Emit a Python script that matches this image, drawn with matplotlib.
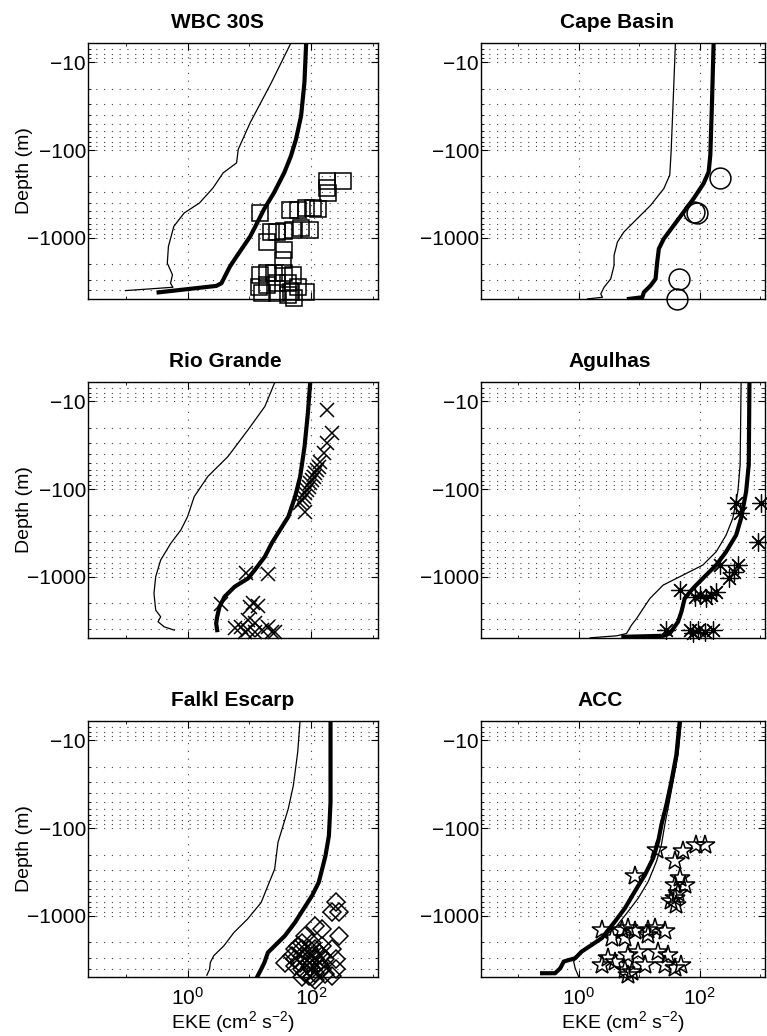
import matplotlib
matplotlib.use('Agg')
import matplotlib.pyplot as plt
from matplotlib.ticker import FixedLocator, LogLocator, FuncFormatter, LogFormatterSciNotation, NullFormatter

plt.rcParams['font.family'] = ['Liberation Sans', 'DejaVu Sans']
plt.rcParams['mathtext.fontset'] = 'custom'
plt.rcParams['mathtext.rm'] = 'Liberation Sans'
plt.rcParams['mathtext.it'] = 'Liberation Sans:italic'

# ---- WBC 30S ----
wbc_thick_eke = [82.7, 77.6, 68.5, 56.6, 46.9, 36.5, 24.9, 17.1, 12.5, 10.3, 8.0, 6.2, 4.84, 4.0, 3.53, 2.92, 0.34]
wbc_thick_depth = [6, 16.9, 40.8, 75.5, 117, 182, 308, 478, 741, 966, 1257, 1636, 2130, 2772, 3305, 3545, 4200]
wbc_thin_eke = [46.9, 22, 10.3, 6.6, 6.2, 3.76, 2.58, 1.56, 0.88, 0.60, 0.49, 0.47, 0.57, 0.53, 0.58, 0.099]
wbc_thin_depth = [6, 17.7, 48.6, 98, 140, 182, 270, 401, 522, 741, 1257, 1950, 2652, 3305, 3675, 4010]
wbc_obs_eke = [177, 332, 177, 184, 15.1, 45.8, 60.4, 83, 107, 129, 22.6, 28.3, 36.5, 50, 68.7, 94,
               19.4, 36.5, 34.3, 15.1, 19.4, 25, 36.5, 50, 14.2, 19.4, 28.3, 41.4, 60.4, 16, 28.3,
               47, 83, 53.3, 41.4]
wbc_obs_depth = [223, 223, 270, 308, 523, 479, 479, 458, 458, 470, 871, 871, 849, 812, 777, 812,
                 1107, 1372, 1790, 2662, 2545, 2545, 2545, 2662, 3623, 3466, 3315, 3315, 3623, 4313, 4313,
                 4130, 4130, 4920, 4510]

# ---- Cape Basin ----
cape_thick_eke = [170, 160, 150, 141, 116, 79.6, 54.6, 37.4, 25.6, 21.2, 19.9, 18.7, 15.5, 12.0, 11.3, 6.8]
cape_thick_depth = [6, 28, 114, 177, 241, 357, 508, 722, 1026, 1336, 1900, 2946, 3513, 4190, 4780, 4990]
cape_thin_eke = [39.8, 36.5, 33.8, 32.1, 25.6, 15.5, 9.3, 5.6, 4.38, 3.86, 3.86, 3.40, 2.64, 2.33, 2.48, 1.41]
cape_thin_depth = [6, 28, 104, 193, 275, 427, 606, 861, 1122, 1594, 2073, 2946, 3672, 4378, 4780, 4990]
cape_obs_eke = [219, 79.6, 90.4, 45.2, 42.4]
cape_obs_depth = [207, 508, 517, 2946, 4990]

# ---- Rio Grande ----
rg_thick_eke = [96.3, 88.2, 77.9, 66.2, 54.8, 42.7, 31.2, 22.9, 17.8, 12.2, 9.5, 5.77, 3.96, 3.28, 3.01, 2.90, 3.01]
rg_thick_depth = [6, 13.6, 32.7, 72, 122, 206, 293, 416, 590, 839, 1045, 1301, 1693, 2203, 2864, 3414, 4070]
rg_thin_eke = [25.9, 17.8, 9.5, 4.49, 2.12, 1.28, 1.0, 0.78, 0.535, 0.367, 0.305, 0.286, 0.305, 0.367, 0.333, 0.417, 0.607]
rg_thin_depth = [6, 11.4, 21.1, 42.6, 72, 122, 206, 293, 416, 645, 1000, 1549, 2403, 2864, 3266, 3724, 4070]
rg_obs_eke = [180, 217, 180, 159, 140, 132, 124, 116, 109, 103, 96.3, 90.5, 85, 79.8, 75, 70.5, 66.2, 79.8,
              8.9, 20.2, 3.5, 11.5, 10.1, 13.8, 5.77, 7.4, 9.5, 9.5, 12.2, 15.7, 20.2, 22.9, 8.4, 12.2, 25.9]
rg_obs_depth = [12.5, 23, 30, 38.9, 48.5, 55.3, 60.4, 65.9, 72, 78.5, 85.7, 93.5, 102, 112, 122, 133, 145, 181,
                916, 933, 2050, 1982, 2203, 2165, 3890, 3724, 3127, 4070, 3414, 4070, 3724, 4252, 4252, 4252, 4252]

# ---- Agulhas ----
ag_thick_eke = [664, 647, 585, 484, 401, 274, 188, 113, 77.6, 56.6, 50, 44, 32.1, 25, 5.5]
ag_thick_depth = [6, 53, 107, 215, 334, 518, 736, 1045, 1359, 1770, 2512, 3266, 4446, 4723, 4850]
ag_thin_eke = [484, 466, 427, 353, 274, 188, 113, 53.2, 25, 15.1, 11.7, 9.1, 7.5, 6.2, 4.27, 1.56]
ag_thin_depth = [6, 53, 107, 215, 334, 518, 736, 958, 1246, 1770, 2303, 2995, 3566, 4446, 4723, 4977]
ag_obs_eke = [401, 1032, 455, 910, 213, 427, 376, 311, 46.9, 100, 155, 188, 82.7, 129, 28.3, 68.5, 94, 121, 166, 77.6]
ag_obs_depth = [145, 145, 189, 398, 736, 736, 877, 1045, 1419, 1622, 1622, 1483, 1693, 1770, 4074, 4074, 4074, 4256, 4074, 4446]

# ---- Falkl Escarp ----
fe_thick_eke = [205, 205, 193, 170, 150, 132, 103, 74.8, 54.6, 37.4, 25.6, 19.9, 17.5, 15.5, 13.6]
fe_thick_depth = [6, 50.7, 122, 206, 293, 416, 590, 839, 1191, 1693, 2203, 2624, 3414, 4070, 4853]
fe_thin_eke = [65.9, 60.4, 51.3, 42.4, 35.1, 29, 25.6, 19.9, 15.5, 9.3, 5.63, 3.86, 2.64, 2.33, 2.27, 2.05]
fe_thin_depth = [6, 13.6, 32.7, 60.4, 93.5, 145, 293, 454, 705, 1092, 1549, 2203, 2864, 3414, 4070, 4766]
fe_obs_eke = [248, 219, 281, 116, 150, 281, 70.3, 103, 150, 219, 48.1, 70.3, 103, 150, 37.4, 54.6, 90.4,
              132, 70.3, 103, 150, 248, 219, 90.4, 116, 70.3, 116, 170, 248, 79.6, 54.6,
              61.9, 90.4, 132, 54.6, 79.6, 116, 65.9, 96.3, 141, 79.6, 116, 170, 70.3, 103]
fe_obs_depth = [705, 916, 916, 1301, 1419, 1693, 2018, 2018, 2203, 2404, 2864, 2864, 2864, 2864, 3414, 3724, 3414,
                3414, 4070, 4070, 4070, 4070, 4853, 4853, 5400, 2404, 2404, 3127, 3127, 1693, 2404,
                2203, 2404, 2624, 3127, 3127, 3127, 3414, 3890, 3724, 4446, 4446, 4645, 5050, 5050]

# ---- ACC ----
acc_thick_eke = [46.9, 41.3, 34.2, 28.3, 23.4, 20.7, 17.1, 12.5, 8.5, 5.85, 4.0, 2.42, 1.66, 1.13, 0.88, 0.57, 0.50, 0.41, 0.25]
acc_thick_depth = [6, 14.5, 29.2, 53.8, 91.2, 141, 219, 340, 527, 817, 1161, 1800, 2143, 2556, 3048, 3327, 3965, 4522, 4522]
acc_thin_eke = [50, 44, 36.5, 30.9, 26.6, 23.4, 19.4, 14.2, 9.7, 6.6, 4.0, 2.42, 1.37, 1.0, 0.83, 0.88, 1.0]
acc_thin_depth = [6, 14.5, 29.2, 53.8, 91.2, 154, 239, 405, 628, 892, 1384, 1800, 2344, 2793, 3327, 3965, 4930]
acc_obs_eke = [19.4, 53.2, 88.1, 121, 38.8, 8.5, 46.9, 38.8, 56.6, 44, 38.8, 34.2, 41.3, 2.42, 5.2, 6.6, 8.5,
               14.2, 18.2, 26.6, 3.53, 5.85, 14.2, 3.11, 6.6, 9.7, 20.7, 30.1, 2.42, 4.0, 5.85, 7.5, 12.5,
               26.6, 38.8, 50, 6.6]
acc_obs_depth = [176, 184, 154, 154, 239, 355, 371, 443, 443, 551, 628, 686, 748, 1445, 1445, 1384, 1510,
                 1445, 1384, 1510, 1800, 1800, 1647, 3048, 2793, 2556, 2556, 2793, 3631, 3327, 4140, 4326, 3631,
                 3631, 3965, 3631, 4720]

titles = ['WBC 30S', 'Cape Basin', 'Rio Grande', 'Agulhas', 'Falkl Escarp', 'ACC']

panels = [
    (wbc_thin_eke, wbc_thin_depth, wbc_thick_eke, wbc_thick_depth, wbc_obs_eke, wbc_obs_depth),
    (cape_thin_eke, cape_thin_depth, cape_thick_eke, cape_thick_depth, cape_obs_eke, cape_obs_depth),
    (rg_thin_eke, rg_thin_depth, rg_thick_eke, rg_thick_depth, rg_obs_eke, rg_obs_depth),
    (ag_thin_eke, ag_thin_depth, ag_thick_eke, ag_thick_depth, ag_obs_eke, ag_obs_depth),
    (fe_thin_eke, fe_thin_depth, fe_thick_eke, fe_thick_depth, fe_obs_eke, fe_obs_depth),
    (acc_thin_eke, acc_thin_depth, acc_thick_eke, acc_thick_depth, acc_obs_eke, acc_obs_depth),
]

# marker style per panel (MATLAB-like open symbols)
marker_styles = [('s', 11.5), ('o', 15), ('x', 10), ((8, 2, 0), 13), ('D', 9), ('*', 15)]
marker_widths = [1.1, 1.1, 1.1, 0.9, 1.1, 1.1]
title_x = [0.445, 0.48, 0.475, 0.455, 0.5, 0.42]

# axes placement (figure fractions)
col_left = [0.1147, 0.6271]
col_width = [0.3781, 0.3703]
row_bottom = [0.7114, 0.3842, 0.0569]
row_height = 0.2471

fig = plt.figure(figsize=(7.67, 10.36), dpi=100)

grid_kw = dict(color='0.25', linestyle=(0, (1, 6)), linewidth=0.8)

for i, (thin_x, thin_y, thick_x, thick_y, obs_x, obs_y) in enumerate(panels):
    r, c = divmod(i, 2)
    ax = fig.add_axes([col_left[c], row_bottom[r], col_width[c], row_height])

    ax.plot(thin_x, thin_y, color='k', linewidth=0.9)
    ax.plot(thick_x, thick_y, color='k', linewidth=3.0)
    mk, ms = marker_styles[i]
    ax.plot(obs_x, obs_y, linestyle='none', marker=mk, markersize=ms,
            markerfacecolor='none', markeredgecolor='k', markeredgewidth=marker_widths[i], clip_on=False)

    ax.set_xscale('log')
    ax.set_yscale('log')
    ax.set_xlim(0.0245, 1200)
    ax.set_ylim(5000, 6)

    ax.xaxis.set_major_locator(FixedLocator([1, 100]))
    ax.xaxis.set_minor_locator(FixedLocator([0.1, 10, 1000]))
    ax.xaxis.set_major_formatter(LogFormatterSciNotation())
    ax.xaxis.set_minor_formatter(NullFormatter())
    ax.yaxis.set_major_locator(FixedLocator([10, 100, 1000]))
    ax.yaxis.set_minor_locator(LogLocator(base=10, subs=range(2, 10)))
    ax.yaxis.set_major_formatter(FuncFormatter(lambda v, p: '\u2212%d' % round(v)))
    ax.yaxis.set_minor_formatter(NullFormatter())

    ax.grid(True, which='both', axis='y', **grid_kw)
    ax.grid(True, which='major', axis='x', **grid_kw)
    ax.set_axisbelow(True)

    ax.tick_params(which='both', direction='in', top=True, right=True, labelsize=15)
    ax.tick_params(which='major', length=5, width=0.8)
    ax.tick_params(which='minor', length=2.5, width=0.6)
    ax.tick_params(axis='y', pad=1.5)
    ax.tick_params(axis='x', pad=7)
    for sp in ax.spines.values():
        sp.set_linewidth(1.0)

    ax.set_title(titles[i], fontsize=15, fontweight='bold', pad=11, x=title_x[i])
    if c == 0:
        ax.set_ylabel('Depth (m)', fontsize=14)
        ax.yaxis.set_label_coords(-0.19, 0.5)
    if r < 2:
        ax.tick_params(axis='x', labelbottom=False)
    else:
        ax.set_xlabel('EKE (cm$^{2}$ s$^{-2}$)', fontsize=14, labelpad=0)

fig.savefig('out.png', dpi=100)
